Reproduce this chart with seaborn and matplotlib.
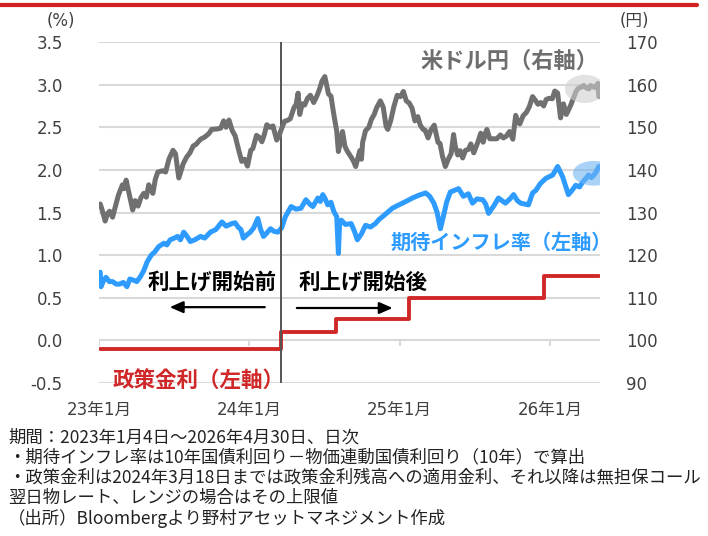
import matplotlib
matplotlib.use("Agg")
import matplotlib.pyplot as plt
import matplotlib.dates as mdates
from matplotlib.patches import Ellipse
import seaborn as sns
import pandas as pd

# USD/JPY (right axis)
usd_dates = ["2023-01-04", "2023-01-09", "2023-01-16", "2023-01-22", "2023-01-27", "2023-02-03",
             "2023-02-10", "2023-02-17", "2023-02-27", "2023-03-03", "2023-03-08", "2023-03-15",
             "2023-03-24", "2023-03-30", "2023-04-06", "2023-04-13", "2023-04-20", "2023-04-26",
             "2023-05-02", "2023-05-12", "2023-05-18", "2023-05-24", "2023-06-05", "2023-06-12",
             "2023-06-20", "2023-06-30", "2023-07-06", "2023-07-14", "2023-07-20", "2023-07-25",
             "2023-08-02", "2023-08-10", "2023-08-18", "2023-08-25", "2023-09-05", "2023-09-15",
             "2023-09-25", "2023-10-02", "2023-10-15", "2023-10-24", "2023-10-31", "2023-11-06",
             "2023-11-13", "2023-11-21", "2023-11-28", "2023-12-07", "2023-12-14", "2023-12-21",
             "2023-12-28", "2024-01-05", "2024-01-10", "2024-01-19", "2024-01-26", "2024-02-01",
             "2024-02-07", "2024-02-13", "2024-02-20", "2024-02-28", "2024-03-08", "2024-03-13",
             "2024-03-18", "2024-03-27", "2024-04-03", "2024-04-10", "2024-04-19", "2024-04-24",
             "2024-04-29", "2024-05-03", "2024-05-09", "2024-05-15", "2024-05-22", "2024-05-29",
             "2024-06-06", "2024-06-14", "2024-06-20", "2024-06-26", "2024-07-03", "2024-07-12",
             "2024-07-18", "2024-07-24", "2024-08-01", "2024-08-05", "2024-08-15", "2024-08-21",
             "2024-08-26", "2024-09-05", "2024-09-11", "2024-09-16", "2024-09-26", "2024-09-30",
             "2024-10-03", "2024-10-10", "2024-10-18", "2024-10-24", "2024-10-31", "2024-11-06",
             "2024-11-15", "2024-11-22", "2024-11-29", "2024-12-03", "2024-12-10", "2024-12-18",
             "2024-12-26", "2025-01-03", "2025-01-10", "2025-01-17", "2025-01-24", "2025-01-31",
             "2025-02-07", "2025-02-14", "2025-02-20", "2025-02-27", "2025-03-04", "2025-03-11",
             "2025-03-18", "2025-03-26", "2025-04-04", "2025-04-09", "2025-04-15", "2025-04-22",
             "2025-04-29", "2025-05-06", "2025-05-12", "2025-05-16", "2025-05-22", "2025-05-28",
             "2025-06-03", "2025-06-10", "2025-06-17", "2025-06-23", "2025-06-30", "2025-07-10",
             "2025-07-17", "2025-07-23", "2025-07-28", "2025-08-01", "2025-08-08", "2025-08-15",
             "2025-08-25", "2025-09-03", "2025-09-10", "2025-09-17", "2025-09-25", "2025-10-03",
             "2025-10-10", "2025-10-15", "2025-10-20", "2025-10-28", "2025-11-05", "2025-11-12",
             "2025-11-20", "2025-11-27", "2025-12-03", "2025-12-10", "2025-12-17", "2025-12-23",
             "2025-12-30", "2026-01-07", "2026-01-13", "2026-01-20", "2026-01-23", "2026-01-27",
             "2026-02-03", "2026-02-10", "2026-02-16", "2026-02-20", "2026-03-02", "2026-03-06",
             "2026-03-12", "2026-03-18", "2026-03-24", "2026-03-31", "2026-04-06", "2026-04-10",
             "2026-04-16", "2026-04-22", "2026-04-28", "2026-04-30"]
usd_jpy = [132.0, 130.5, 128.0, 129.8, 130.3, 128.9,
           131.5, 134.0, 136.5, 135.6, 137.6, 134.5,
           130.6, 132.8, 131.5, 133.5, 134.5, 133.6,
           136.5, 134.5, 137.8, 139.5, 139.8, 139.5,
           142.5, 144.6, 143.8, 138.1, 140.0, 141.5,
           143.0, 144.0, 145.6, 146.0, 147.2, 147.7,
           148.5, 149.5, 149.6, 149.8, 151.5, 150.0,
           151.7, 149.2, 148.0, 144.5, 142.0, 142.5,
           140.9, 144.6, 145.0, 148.1, 147.6, 146.6,
           148.3, 150.6, 150.0, 150.3, 147.0, 147.8,
           149.2, 151.4, 151.6, 152.0, 154.6, 155.3,
           158.0, 153.0, 155.5, 155.2, 156.8, 157.5,
           155.8, 157.4, 158.9, 160.8, 161.9, 157.8,
           157.3, 153.5, 149.0, 144.3, 149.0, 145.5,
           144.5, 143.0, 142.0, 140.8, 144.5, 142.5,
           146.5, 149.2, 150.0, 151.8, 153.0, 154.6,
           156.2, 154.7, 150.2, 149.5, 151.5, 154.9,
           157.5, 157.2, 158.4, 156.2, 155.7, 154.5,
           151.5, 152.5, 150.5, 149.5, 149.3, 147.5,
           149.4, 150.5, 146.5, 146.2, 143.2, 140.8,
           142.5, 143.8, 148.3, 145.6, 143.5, 144.5,
           142.8, 144.6, 144.8, 146.1, 144.0, 146.5,
           148.6, 146.5, 148.5, 149.5, 147.3, 147.3,
           147.3, 148.2, 147.5, 147.9, 149.0, 147.2,
           152.8, 151.2, 150.8, 152.7, 153.5, 154.8,
           157.2, 156.3, 155.4, 155.8, 155.0, 156.5,
           156.8, 156.7, 158.5, 158.0, 155.5, 152.2,
           155.5, 153.0, 154.2, 155.0, 157.5, 158.5,
           159.2, 159.4, 159.8, 159.2, 159.0, 159.8,
           159.5, 159.3, 160.3, 157.2]

# Expected inflation (left axis)
infl_dates = ["2023-01-04", "2023-01-06", "2023-01-12", "2023-01-18", "2023-01-26", "2023-02-03",
              "2023-02-12", "2023-02-20", "2023-03-01", "2023-03-10", "2023-03-17", "2023-03-24",
              "2023-04-03", "2023-04-12", "2023-04-20", "2023-04-28", "2023-05-08", "2023-05-17",
              "2023-05-26", "2023-06-08", "2023-06-15", "2023-06-23", "2023-07-03", "2023-07-11",
              "2023-07-18", "2023-07-26", "2023-08-03", "2023-08-11", "2023-08-22", "2023-09-05",
              "2023-09-15", "2023-09-29", "2023-10-12", "2023-10-27", "2023-11-06", "2023-11-20",
              "2023-11-28", "2023-12-05", "2023-12-12", "2023-12-18", "2023-12-27", "2024-01-04",
              "2024-01-12", "2024-01-22", "2024-01-29", "2024-02-05", "2024-02-13", "2024-02-22",
              "2024-03-01", "2024-03-11", "2024-03-20", "2024-03-29", "2024-04-12", "2024-04-24",
              "2024-05-06", "2024-05-18", "2024-05-27", "2024-06-04", "2024-06-16", "2024-06-22",
              "2024-06-28", "2024-07-04", "2024-07-10", "2024-07-18", "2024-07-25", "2024-08-01",
              "2024-08-05", "2024-08-08", "2024-08-12", "2024-08-22", "2024-09-05", "2024-09-13",
              "2024-09-20", "2024-09-30", "2024-10-10", "2024-10-22", "2024-11-03", "2024-11-12",
              "2024-11-20", "2024-12-02", "2024-12-14", "2024-12-26", "2025-01-08", "2025-01-20",
              "2025-02-01", "2025-02-15", "2025-03-05", "2025-03-15", "2025-03-25", "2025-04-02",
              "2025-04-10", "2025-04-17", "2025-04-25", "2025-05-04", "2025-05-14", "2025-05-24",
              "2025-06-05", "2025-06-17", "2025-06-27", "2025-07-08", "2025-07-22", "2025-07-29",
              "2025-08-05", "2025-08-18", "2025-08-29", "2025-09-15", "2025-09-26", "2025-10-05",
              "2025-10-14", "2025-10-22", "2025-11-01", "2025-11-10", "2025-11-20", "2025-11-28",
              "2025-12-09", "2025-12-22", "2026-01-08", "2026-01-14", "2026-01-20", "2026-02-01",
              "2026-02-09", "2026-02-15", "2026-02-24", "2026-03-05", "2026-03-14", "2026-03-22",
              "2026-03-30", "2026-04-05", "2026-04-12", "2026-04-18", "2026-04-24", "2026-04-30"]
infl = [0.80, 0.63, 0.70, 0.74, 0.69, 0.69,
        0.66, 0.66, 0.68, 0.63, 0.72, 0.71,
        0.69, 0.75, 0.82, 0.92, 1.00, 1.04,
        1.10, 1.14, 1.12, 1.18, 1.20, 1.22,
        1.18, 1.27, 1.22, 1.16, 1.18, 1.22,
        1.20, 1.27, 1.30, 1.39, 1.34, 1.37,
        1.38, 1.33, 1.30, 1.20, 1.24, 1.27,
        1.32, 1.43, 1.30, 1.22, 1.26, 1.31,
        1.28, 1.27, 1.32, 1.45, 1.57, 1.54,
        1.55, 1.65, 1.60, 1.57, 1.67, 1.63,
        1.71, 1.66, 1.59, 1.62, 1.51, 1.45,
        1.02, 1.38, 1.41, 1.36, 1.37, 1.28,
        1.18, 1.25, 1.35, 1.33, 1.37, 1.42,
        1.45, 1.50, 1.55, 1.58, 1.61, 1.64,
        1.67, 1.70, 1.73, 1.69, 1.61, 1.50,
        1.31, 1.45, 1.62, 1.74, 1.76, 1.78,
        1.69, 1.72, 1.61, 1.66, 1.65, 1.60,
        1.49, 1.58, 1.67, 1.61, 1.66, 1.71,
        1.64, 1.61, 1.60, 1.59, 1.73, 1.76,
        1.84, 1.90, 1.94, 1.99, 2.04, 1.92,
        1.80, 1.71, 1.76, 1.82, 1.80, 1.86,
        1.90, 1.94, 1.91, 1.94, 1.98, 2.04]

# Policy rate (left axis, step)
rate_dates = ["2023-01-04", "2024-03-19", "2024-07-31", "2025-01-24", "2025-12-19", "2026-04-30"]
rate = [-0.1, 0.1, 0.25, 0.5, 0.75, 0.75]

tick_dates = ["2023-01-01", "2024-01-01", "2025-01-01", "2026-01-01"]
tick_labels = ["23年1月", "24年1月", "25年1月", "26年1月"]
left_ticks = [-0.5, 0.0, 0.5, 1.0, 1.5, 2.0, 2.5, 3.0, 3.5]
right_ticks = [90, 100, 110, 120, 130, 140, 150, 160, 170]

notes = [
    "期間：2023年1月4日～2026年4月30日、日次",
    "・期待インフレ率は10年国債利回り－物価連動国債利回り（10年）で算出",
    "・政策金利は2024年3月18日までは政策金利残高への適用金利、それ以降は無担保コール",
    "翌日物レート、レンジの場合はその上限値",
    "（出所）Bloombergより野村アセットマネジメント作成",
]

GRAY = "#707070"
BLUE = "#2e9bff"
RED = "#d02828"
GRID = "#d9d9d9"

sns.set_style("white")
plt.rcParams["font.family"] = ["Noto Sans CJK JP", "DejaVu Sans"]
TICKFONT = ["DejaVu Sans", "Noto Sans CJK JP"]

usd_df = pd.DataFrame({"date": pd.to_datetime(usd_dates), "value": usd_jpy})
infl_df = pd.DataFrame({"date": pd.to_datetime(infl_dates), "value": infl})
rate_df = pd.DataFrame({"date": pd.to_datetime(rate_dates), "value": rate})

fig = plt.figure(figsize=(7.08, 5.36), dpi=100)
ax = fig.add_axes([0.1398, 0.2854, 0.7077, 0.6362])
ax2 = ax.twinx()

sns.lineplot(data=infl_df, x="date", y="value", ax=ax, color=BLUE, linewidth=3.6, zorder=3)
sns.lineplot(data=rate_df, x="date", y="value", ax=ax, color=RED, linewidth=2.8,
             drawstyle="steps-post", zorder=3)
sns.lineplot(data=usd_df, x="date", y="value", ax=ax2, color=GRAY, linewidth=3.6, zorder=3)

start = pd.Timestamp("2023-01-01")
end = pd.Timestamp("2026-05-03")
ax.set_xlim(start, end)
ax.set_ylim(-0.5, 3.5)
ax2.set_ylim(90, 170)

ax.set_yticks(left_ticks)
ax.set_yticklabels([f"{v:.1f}" for v in left_ticks], family=TICKFONT, fontsize=12, color="#404040")
ax2.set_yticks(right_ticks)
ax2.set_yticklabels([str(v) for v in right_ticks], family=TICKFONT, fontsize=12, color="#404040")
ax.set_xticks(pd.to_datetime(tick_dates))
ax.set_xticklabels(tick_labels, family=TICKFONT, fontsize=12, color="#404040")
ax.tick_params(axis="y", length=0, pad=26)
ax2.tick_params(axis="y", length=0, pad=19)
ax.tick_params(axis="x", length=0, pad=13)

for a in (ax, ax2):
    for s in a.spines.values():
        s.set_visible(False)
ax.set_xlabel("")
ax.set_ylabel("")
ax2.set_ylabel("")
ax.grid(axis="y", color=GRID, linewidth=1.5)
ax.set_axisbelow(True)
ax.vlines(pd.to_datetime(tick_dates), -0.07, 0, color=GRID, linewidth=1.5, zorder=1)

# rate hike start line
ax.axvline(pd.Timestamp("2024-03-18"), color="#555555", linewidth=1.4, zorder=4)

# highlight ellipses
ax2.add_patch(Ellipse((mdates.date2num(pd.Timestamp("2026-03-27")), 159.0), 97, 6.6,
                      facecolor="#cfcfcf", edgecolor="none", alpha=0.6, zorder=5))
ax.add_patch(Ellipse((mdates.date2num(pd.Timestamp("2026-04-18")), 1.96), 102, 0.29,
                     facecolor="#70b4f0", edgecolor="none", alpha=0.6, zorder=5))

# labels
ax.text(pd.Timestamp("2026-04-30"), 3.27, "米ドル円（右軸）", color="#6e6e6e", fontsize=16,
        fontweight="bold", ha="right", va="center", clip_on=False)
ax.text(pd.Timestamp("2026-06-01"), 1.15, "期待インフレ率（左軸）", color=BLUE, fontsize=14.5,
        fontweight="bold", ha="right", va="center", clip_on=False)
ax.text(pd.Timestamp("2023-02-04"), -0.48, "政策金利（左軸）", color=RED, fontsize=15.5,
        fontweight="bold", ha="left", va="center")
ax.text(pd.Timestamp("2023-10-02"), 0.68, "利上げ開始前", color="black", fontsize=15.5,
        fontweight="bold", ha="center", va="center")
ax.text(pd.Timestamp("2024-10-04"), 0.68, "利上げ開始後", color="black", fontsize=15.5,
        fontweight="bold", ha="center", va="center")
arrow = dict(arrowstyle="-|>,head_length=0.8,head_width=0.35", color="black", lw=1.6,
             shrinkA=0, shrinkB=0)
ax.annotate("", xy=(pd.Timestamp("2023-06-22"), 0.39), xytext=(pd.Timestamp("2024-02-08"), 0.39),
            arrowprops=arrow)
ax.annotate("", xy=(pd.Timestamp("2024-12-15"), 0.38), xytext=(pd.Timestamp("2024-04-26"), 0.38),
            arrowprops=arrow)

# unit labels
fig.text(75 / 708, 1 - 21 / 536, "(%)", ha="right", va="center", fontsize=12,
         family=TICKFONT, color="#404040")
fig.text(620 / 708, 1 - 21 / 536, "(円)", ha="left", va="center", fontsize=12,
         family=TICKFONT, color="#404040")

# top red rule
fig.add_artist(plt.Line2D([0, 697 / 708], [1 - 5 / 536, 1 - 5 / 536], color="#d42020", linewidth=3))

# footnotes
for i, line in enumerate(notes):
    fig.text(8 / 708, 1 - (437 + i * 20.3) / 536, line, ha="left", va="center", fontsize=12.5,
             color="#222222")

fig.savefig("out.png", dpi=100)
